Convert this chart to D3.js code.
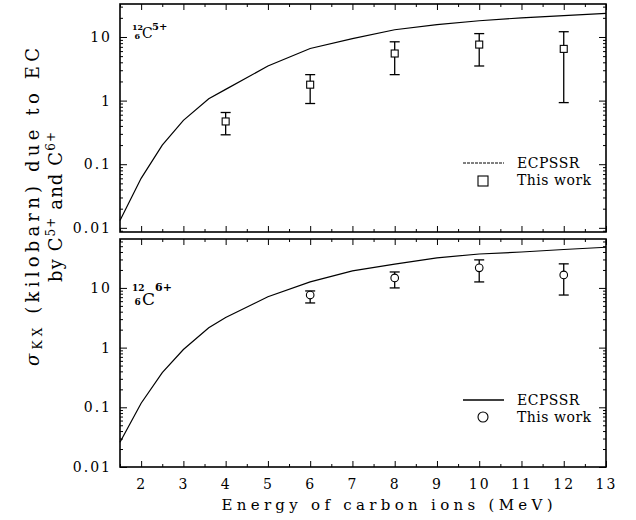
<!DOCTYPE html>
<head>
  <meta charset="utf-8">
  <style>
  body { margin: 0; background: #fff; }
  * { font-family: "DejaVu Serif", serif; }
  .curve { fill: none; stroke: #000; stroke-width: 1.2px; }
  .frame { fill: none; stroke: #000; stroke-width: 1.6px; }
  .err { stroke: #000; stroke-width: 1.3px; }
  .tick line { stroke: #000; }
  .domain { display: none; }
  .tick text { font-size: 14px; fill: #000; letter-spacing: 2px; }
  .iso { font-family: "Liberation Serif", serif; }
  </style>
</head>
<body>
<svg width="636" height="520"></svg>
<script src="https://d3js.org/d3.v7.min.js"></script>
<script>
// ECPSSR theory curves (kilobarn)
var energyTheory = [1.5, 2, 2.5, 3, 3.6, 4, 5, 6, 7, 8, 9, 10, 11, 12, 13];
var ecpssrC5 = [0.013, 0.06, 0.2, 0.49, 1.07, 1.5, 3.5, 6.6, 9.4, 13, 15.6, 18, 20, 21.7, 23.5];
var ecpssrC6 = [0.026, 0.117, 0.38, 0.93, 2.15, 3.2, 7.1, 12.6, 19.3, 25, 31.9, 37, 40, 44, 48];

// measured points, C5+
var c5Energy = [4, 6, 8, 10, 12];
var c5Value = [0.47, 1.78, 5.5, 7.6, 6.5];
var c5Low = [0.29, 0.9, 2.56, 3.5, 0.93];
var c5High = [0.65, 2.56, 8.4, 11.3, 12.1];

// measured points, C6+
var c6Energy = [6, 8, 10, 12];
var c6Value = [7.6, 14.7, 21.7, 16.5];
var c6Low = [5.6, 10, 12.6, 7.6];
var c6High = [8.9, 18.5, 29.5, 25.3];

var xTicks = [2, 3, 4, 5, 6, 7, 8, 9, 10, 11, 12, 13];
var yTicks = [0.01, 0.1, 1, 10];
var yTickLabels = ["0.01", "0.1", "1", "10"];

var svg = d3.select("svg");
var left = 120, right = 606;

var x = d3.scaleLinear().domain([1.5, 13]).range([left, right]);

var panels = [
  {top: 4, bottom: 232, y: d3.scaleLog().domain([0.0086, 33]).range([232, 4]),
   theory: ecpssrC5, ex: c5Energy, ev: c5Value, lo: c5Low, hi: c5High,
   marker: "square", charge: "5+", labels: false},
  {top: 239, bottom: 467, y: d3.scaleLog().domain([0.01, 66]).range([467, 239]),
   theory: ecpssrC6, ex: c6Energy, ev: c6Value, lo: c6Low, hi: c6High,
   marker: "circle", charge: "6+", labels: true}
];

var xMinor = d3.range(1.5, 13.01, 0.5).filter(function(d) { return d % 1 !== 0; });

panels.forEach(function(p, i) {
  var g = svg.append("g");
  var y = p.y;

  // y minor ticks
  var yMinor = [];
  y.ticks().forEach(function(d) { if (yTicks.indexOf(d) < 0) yMinor.push(d); });

  g.append("g").attr("transform", "translate(" + left + ",0)")
    .call(d3.axisLeft(y).tickValues(yMinor).tickSize(-3).tickFormat(""));
  g.append("g").attr("transform", "translate(" + left + ",0)")
    .call(d3.axisLeft(y).tickValues(yTicks).tickSize(-7).tickPadding(8)
      .tickFormat(function(d, j) { return yTickLabels[j]; }));
  g.append("g").attr("transform", "translate(" + right + ",0)")
    .call(d3.axisRight(y).tickValues(yMinor).tickSize(-3).tickFormat(""));
  g.append("g").attr("transform", "translate(" + right + ",0)")
    .call(d3.axisRight(y).tickValues(yTicks).tickSize(-7).tickFormat(""));

  // x ticks top and bottom
  g.append("g").attr("transform", "translate(0," + p.top + ")")
    .call(d3.axisTop(x).tickValues(xTicks).tickSize(-6).tickFormat(""));
  g.append("g").attr("transform", "translate(0," + p.top + ")")
    .call(d3.axisTop(x).tickValues(xMinor).tickSize(-3).tickFormat(""));
  g.append("g").attr("transform", "translate(0," + p.bottom + ")")
    .call(d3.axisBottom(x).tickValues(xMinor).tickSize(-3).tickFormat(""));
  g.append("g").attr("transform", "translate(0," + p.bottom + ")")
    .call(d3.axisBottom(x).tickValues(xTicks).tickSize(-6).tickPadding(12)
      .tickFormat(p.labels ? d3.format("d") : ""));

  g.append("rect").attr("class", "frame")
    .attr("x", left).attr("y", p.top)
    .attr("width", right - left).attr("height", p.bottom - p.top);

  // theory curve
  var line = d3.line()
    .x(function(d, j) { return x(energyTheory[j]); })
    .y(function(d) { return y(d); });
  g.append("path").attr("class", "curve").attr("d", line(p.theory));

  // error bars
  p.ex.forEach(function(e, j) {
    var cx = x(e);
    g.append("line").attr("class", "err")
      .attr("x1", cx).attr("x2", cx).attr("y1", y(p.lo[j])).attr("y2", y(p.hi[j]));
    g.append("line").attr("class", "err")
      .attr("x1", cx - 5).attr("x2", cx + 5).attr("y1", y(p.lo[j])).attr("y2", y(p.lo[j]));
    g.append("line").attr("class", "err")
      .attr("x1", cx - 5).attr("x2", cx + 5).attr("y1", y(p.hi[j])).attr("y2", y(p.hi[j]));
    if (p.marker == "square") {
      g.append("rect").attr("x", cx - 3.5).attr("y", y(p.ev[j]) - 3.5)
        .attr("width", 7).attr("height", 7)
        .attr("fill", "#fff").attr("stroke", "#000").attr("stroke-width", 1.1);
    } else {
      g.append("circle").attr("cx", cx).attr("cy", y(p.ev[j])).attr("r", 3.8)
        .attr("fill", "#fff").attr("stroke", "#000").attr("stroke-width", 1.1);
    }
  });

  // isotope label: mass number over atomic number, then C and charge
  var big = i == 1;
  var bx = 132, by = big ? 291 : 30;
  var iso = g.append("g").attr("class", "iso");
  iso.append("text").attr("x", bx).attr("y", by).attr("font-size", big ? 9 : 8)
    .attr("font-weight", "bold").text("12");
  iso.append("text").attr("x", bx + 2.5).attr("y", by + (big ? 14 : 9))
    .attr("font-size", big ? 9 : 8).attr("font-weight", "bold").text("6");
  iso.append("text").attr("x", bx + (big ? 10 : 10)).attr("y", by + (big ? 14 : 8))
    .attr("font-size", big ? 17 : 14).text("C");
  iso.append("text").attr("x", bx + (big ? 23 : 20)).attr("y", by)
    .attr("font-size", big ? 11 : 10).attr("font-weight", "bold").text(p.charge);

  // legend
  var ly = p.top + (big ? 161 : 159);
  g.append("line").attr("x1", 463).attr("x2", 504).attr("y1", ly).attr("y2", ly)
    .attr("stroke", "#000").attr("stroke-width", big ? 1.4 : 1)
    .attr("stroke-dasharray", big ? null : "3,1");
  g.append("text").attr("x", 517).attr("y", ly + 5).attr("font-size", 14)
    .attr("letter-spacing", 0.5).text("ECPSSR");
  if (p.marker == "square") {
    g.append("rect").attr("x", 478).attr("y", ly + 13).attr("width", 10).attr("height", 10)
      .attr("fill", "#fff").attr("stroke", "#000").attr("stroke-width", 1.1);
  } else {
    g.append("circle").attr("cx", 483).attr("cy", ly + 17).attr("r", 5)
      .attr("fill", "#fff").attr("stroke", "#000").attr("stroke-width", 1.1);
  }
  g.append("text").attr("x", 517).attr("y", ly + 22).attr("font-size", 14)
    .attr("letter-spacing", 0.5).text("This work");
});

// axis titles
svg.append("text").attr("x", 387).attr("y", 510).attr("text-anchor", "middle")
  .attr("font-size", 15).attr("textLength", 331).attr("lengthAdjust", "spacing")
  .text("Energy of carbon ions (MeV)");

var t1 = svg.append("text").attr("transform", "translate(39,207) rotate(-90)")
  .attr("text-anchor", "middle").attr("font-size", 18)
  .attr("textLength", 318).attr("lengthAdjust", "spacing");
t1.append("tspan").attr("font-style", "italic").text("σ");
t1.append("tspan").attr("font-size", 12).attr("baseline-shift", "-25%").text("KX");
t1.append("tspan").text(" (kilobarn) due to EC");

var t2 = svg.append("text").attr("transform", "translate(62,207) rotate(-90)")
  .attr("text-anchor", "middle").attr("font-size", 18)
  .attr("textLength", 150).attr("lengthAdjust", "spacing");
t2.append("tspan").text("by C");
t2.append("tspan").attr("font-size", 12).attr("baseline-shift", "super").text("5+");
t2.append("tspan").text(" and C");
t2.append("tspan").attr("font-size", 12).attr("baseline-shift", "super").text("6+");
</script>
</body>
